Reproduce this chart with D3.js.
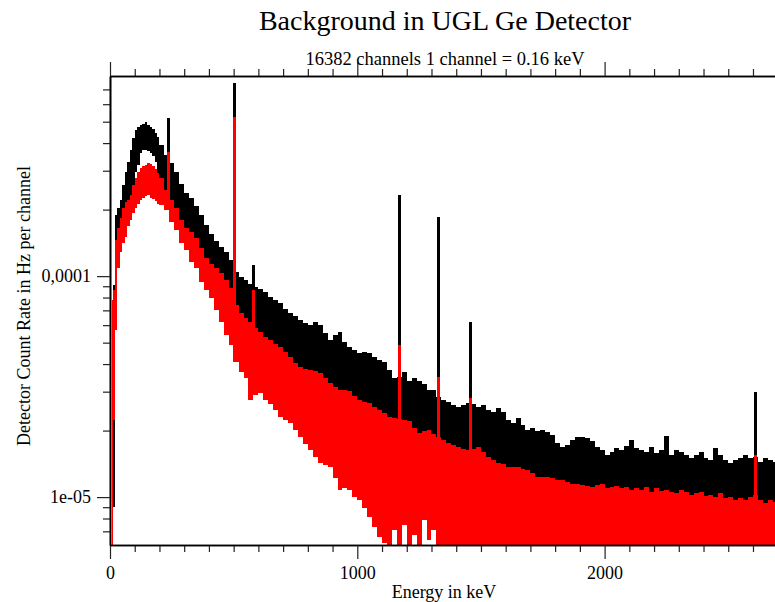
<!DOCTYPE html>
<html><head><meta charset="utf-8">
<script src="https://cdn.jsdelivr.net/npm/d3@7"></script>
<style>
body{margin:0;background:#fff}
svg{display:block}
text{font-family:"Liberation Serif","DejaVu Serif",serif;fill:#000}
</style>
</head><body>
<svg id="chart" width="775" height="602"></svg>
<script>
// ---- DATA (energy in keV, count rate in Hz per channel) ----
const binKeV = [8,14,20,30,40,50,60,70,80,90,100,110,120,130,140,150,160,170,180,190,
200,220,240,260,280,300,320,340,360,380,400,420,440,460,480,500,520,540,560,580,
600,620,640,660,680,700,720,740,760,780,800,820,840,860,880,900,920,940,960,980,
1000,1020,1040,1060,1080,1100,1120,1140,1160,1180,1200,1220,1240,1260,1280,1300,1320,1340,1360,1380,
1400,1420,1440,1460,1480,1500,1520,1540,1560,1580,1600,1620,1640,1660,1680,1700,1720,1740,1760,1780,
1800,1820,1840,1860,1880,1900,1920,1940,1960,1980,2000,2020,2040,2060,2080,2100,2120,2140,2160,2180,
2200,2220,2240,2260,2280,2300,2320,2340,2360,2380,2400,2420,2440,2460,2480,2500,2520,2540,2560,2580,
2600,2620,2640,2660,2680];
const binEndKeV = 2700;

// black spectrum: upper envelope per bin
const blackHigh = [5.0e-5,9.1e-5,1.89e-4,2.04e-4,2.21e-4,2.58e-4,2.96e-4,3.28e-4,3.72e-4,4.21e-4,4.58e-4,4.72e-4,4.82e-4,4.87e-4,4.97e-4,4.82e-4,4.72e-4,4.63e-4,4.44e-4,4.26e-4,
3.92e-4,3.53e-4,3.25e-4,2.96e-4,2.61e-4,2.38e-4,2.26e-4,2.08e-4,1.89e-4,1.70e-4,1.55e-4,1.44e-4,1.35e-4,1.28e-4,1.18e-4,1.04e-4,9.9e-5,9.59e-5,9.2e-5,8.91e-5,
8.73e-5,8.46e-5,8.03e-5,7.79e-5,7.55e-5,7.09e-5,6.80e-5,6.59e-5,6.32e-5,6.13e-5,6.00e-5,6.19e-5,6.00e-5,5.53e-5,5.13e-5,5.41e-5,5.58e-5,5.02e-5,4.77e-5,4.63e-5,
4.49e-5,4.53e-5,4.49e-5,4.30e-5,4.17e-5,4.08e-5,3.76e-5,3.45e-5,3.49e-5,3.68e-5,3.35e-5,3.45e-5,3.35e-5,3.24e-5,3.05e-5,3.05e-5,2.83e-5,2.75e-5,2.69e-5,2.61e-5,
2.55e-5,2.61e-5,2.66e-5,2.64e-5,2.55e-5,2.61e-5,2.47e-5,2.42e-5,2.52e-5,2.42e-5,2.23e-5,2.16e-5,2.28e-5,2.12e-5,2.01e-5,2.05e-5,1.99e-5,2.01e-5,1.97e-5,1.91e-5,
1.76e-5,1.68e-5,1.72e-5,1.81e-5,1.87e-5,1.87e-5,1.85e-5,1.79e-5,1.68e-5,1.63e-5,1.55e-5,1.60e-5,1.67e-5,1.63e-5,1.70e-5,1.81e-5,1.67e-5,1.63e-5,1.60e-5,1.68e-5,
1.58e-5,1.63e-5,1.89e-5,1.55e-5,1.63e-5,1.60e-5,1.55e-5,1.50e-5,1.55e-5,1.60e-5,1.50e-5,1.47e-5,1.67e-5,1.55e-5,1.47e-5,1.43e-5,1.47e-5,1.50e-5,1.55e-5,1.50e-5,
1.52e-5,1.44e-5,1.50e-5,1.47e-5,1.44e-5];
// black spectrum: lower envelope where it is not hidden by the red one (first bins)
const blackLowStart = [3.0e-5,9.0e-6,7.79e-5,1.46e-4,1.70e-4,1.89e-4,2.10e-4,2.21e-4,2.33e-4,2.58e-4,2.96e-4,3.18e-4,3.60e-4,3.72e-4,3.72e-4,3.68e-4,3.60e-4,3.49e-4,3.28e-4,2.83e-4];

// red spectrum: upper and lower envelopes per bin
const redHigh = [7.79e-5,8.64e-5,1.46e-4,1.65e-4,1.83e-4,2.04e-4,2.16e-4,2.21e-4,2.33e-4,2.58e-4,2.78e-4,2.96e-4,3.08e-4,3.15e-4,3.18e-4,3.25e-4,3.21e-4,3.15e-4,3.05e-4,2.92e-4,
2.78e-4,2.45e-4,2.21e-4,2.04e-4,1.79e-4,1.66e-4,1.59e-4,1.49e-4,1.34e-4,1.21e-4,1.14e-4,1.085e-4,1.03e-4,9.59e-5,8.82e-5,7.39e-5,6.80e-5,6.45e-5,6.19e-5,5.82e-5,
5.58e-5,5.30e-5,5.13e-5,4.92e-5,4.77e-5,4.53e-5,4.30e-5,4.04e-5,3.88e-5,3.80e-5,3.76e-5,3.72e-5,3.65e-5,3.45e-5,3.28e-5,3.15e-5,3.05e-5,3.05e-5,3.02e-5,2.86e-5,
2.75e-5,2.69e-5,2.66e-5,2.55e-5,2.47e-5,2.40e-5,2.30e-5,2.28e-5,2.25e-5,2.23e-5,2.21e-5,2.05e-5,1.95e-5,1.99e-5,2.01e-5,1.93e-5,1.87e-5,1.81e-5,1.76e-5,1.72e-5,
1.68e-5,1.65e-5,1.63e-5,1.65e-5,1.68e-5,1.60e-5,1.52e-5,1.47e-5,1.43e-5,1.41e-5,1.37e-5,1.37e-5,1.37e-5,1.34e-5,1.32e-5,1.29e-5,1.23e-5,1.23e-5,1.23e-5,1.22e-5,
1.19e-5,1.19e-5,1.17e-5,1.15e-5,1.15e-5,1.14e-5,1.12e-5,1.11e-5,1.14e-5,1.15e-5,1.10e-5,1.11e-5,1.12e-5,1.10e-5,1.11e-5,1.08e-5,1.10e-5,1.08e-5,1.11e-5,1.06e-5,
1.10e-5,1.07e-5,1.08e-5,1.05e-5,1.04e-5,1.08e-5,1.05e-5,1.02e-5,1.04e-5,1.05e-5,1.01e-5,1.02e-5,1.00e-5,1.04e-5,9.9e-6,1.00e-5,9.69e-6,9.9e-6,9.69e-6,1.00e-5,
1.02e-5,9.69e-6,9.4e-6,9.69e-6,9.5e-6];
const redLow = [5.0e-6,2.23e-5,5.70e-5,1.085e-4,1.28e-4,1.41e-4,1.51e-4,1.68e-4,1.79e-4,1.93e-4,2.04e-4,2.12e-4,2.21e-4,2.26e-4,2.31e-4,2.33e-4,2.26e-4,2.23e-4,2.19e-4,2.12e-4,
2.10e-4,1.99e-4,1.75e-4,1.61e-4,1.41e-4,1.31e-4,1.16e-4,1.085e-4,9.40e-5,8.64e-5,7.95e-5,7.02e-5,6.19e-5,5.41e-5,4.87e-5,4.08e-5,3.68e-5,3.45e-5,2.75e-5,2.89e-5,
2.95e-5,2.75e-5,2.64e-5,2.47e-5,2.30e-5,2.23e-5,2.16e-5,2.01e-5,1.87e-5,1.74e-5,1.63e-5,1.52e-5,1.42e-5,1.40e-5,1.37e-5,1.22e-5,1.08e-5,1.10e-5,1.08e-5,1.00e-5,
9.69e-6,8.91e-6,8.12e-6,7.32e-6,6.59e-6,6.2e-6,5.0e-6,7.09e-6,5.0e-6,7.47e-6,5.0e-6,6.73e-6,5.0e-6,7.87e-6,6.39e-6,7.09e-6,5.0e-6,5.0e-6,5.0e-6,5.0e-6,
5.0e-6,5.0e-6,5.0e-6,5.0e-6,5.0e-6,5.0e-6,5.0e-6,5.0e-6,5.0e-6,5.0e-6,5.0e-6,5.0e-6,5.0e-6,5.0e-6,5.0e-6,5.0e-6,5.0e-6,5.0e-6,5.0e-6,5.0e-6,
5.0e-6,5.0e-6,5.0e-6,5.0e-6,5.0e-6,5.0e-6,5.0e-6,5.0e-6,5.0e-6,5.0e-6,5.0e-6,5.0e-6,5.0e-6,5.0e-6,5.0e-6,5.0e-6,5.0e-6,5.0e-6,5.0e-6,5.0e-6,
5.0e-6,5.0e-6,5.0e-6,5.0e-6,5.0e-6,5.0e-6,5.0e-6,5.0e-6,5.0e-6,5.0e-6,5.0e-6,5.0e-6,5.0e-6,5.0e-6,5.0e-6,5.0e-6,5.0e-6,5.0e-6,5.0e-6,5.0e-6,
5.0e-6,5.0e-6,5.0e-6,5.0e-6,5.0e-6];

// gamma lines
const peakKeV   = [235, 505, 580, 1170, 1330, 1456, 2611];
const peakBlack = [5.19e-4, 7.47e-4, 1.12e-4, 2.33e-4, 1.85e-4, 6.2e-5, 2.99e-5];
const peakRed   = [3.64e-4, 5.25e-4, 8.64e-5, 4.87e-5, 3.5e-5, 2.8e-5, 1.55e-5];

// ticks
const xMajorTicks = [0, 1000, 2000];
const xMinorTicks = [100,200,300,400,500,600,700,800,900,1100,1200,1300,1400,1500,1600,1700,1800,1900,2100,2200,2300,2400,2500,2600,2700];
const yMajorTicks = [1e-5, 1e-4];
const yMajorLabels = ["1e-05", "0,0001"];
const yMinorTicks = [7e-6,8e-6,9e-6,2e-5,3e-5,4e-5,5e-5,6e-5,7e-5,8e-5,9e-5,2e-4,3e-4,4e-4,5e-4,6e-4,7e-4];

const titleText = "Background in UGL Ge Detector";
const subtitleText = "16382 channels 1 channel = 0.16 keV";
const xLabel = "Energy in keV";
const yLabel = "Detector Count Rate in Hz per channel";

// ---- LAYOUT ----
const FONT = "'Liberation Serif', 'DejaVu Serif', serif";
const L = 110, T = 76, B = 545;
const svg = d3.select("#chart");
const x = d3.scaleLinear().domain([0, 2800]).range([L, L + 0.2473 * 2800]);
const y = d3.scaleLog().domain([6.07e-6, 8.05e-4]).range([B, T]);

svg.append("defs").append("clipPath").attr("id","plot")
  .append("rect").attr("x", L).attr("y", T).attr("width", 800).attr("height", B - T);

const pts = binKeV.map((e, i) => ({
  e,
  bLo: i < blackLowStart.length ? blackLowStart[i] : redLow[i],
  bHi: blackHigh[i], rLo: redLow[i], rHi: redHigh[i]
}));
pts.push(Object.assign({}, pts[pts.length - 1], {e: binEndKeV}));

const plot = svg.append("g").attr("clip-path", "url(#plot)");
const areaB = d3.area().x(d => x(d.e)).y0(d => y(d.bLo)).y1(d => y(d.bHi)).curve(d3.curveStepAfter);
const areaR = d3.area().x(d => x(d.e)).y0(d => y(d.rLo)).y1(d => y(d.rHi)).curve(d3.curveStepAfter);

const binIndex = e => Math.max(0, d3.bisectRight(binKeV, e) - 1);
const peakHalf = 6;

plot.append("path").datum(pts).attr("d", areaB).attr("fill", "#000").attr("shape-rendering", "crispEdges");
plot.selectAll("rect.pb").data(peakKeV).join("rect").attr("class","pb")
  .attr("x", d => x(d - peakHalf)).attr("width", d => x(d + peakHalf) - x(d - peakHalf))
  .attr("y", (d, i) => y(peakBlack[i]))
  .attr("height", (d, i) => Math.max(0, Math.min(B + 5, y(pts[binIndex(d)].bLo)) - y(peakBlack[i])))
  .attr("fill", "#000").attr("shape-rendering", "crispEdges");
plot.append("path").datum(pts).attr("d", areaR).attr("fill", "#ff0000").attr("shape-rendering", "crispEdges");
plot.selectAll("rect.pr").data(peakKeV).join("rect").attr("class","pr")
  .attr("x", d => x(d - peakHalf)).attr("width", d => x(d + peakHalf) - x(d - peakHalf))
  .attr("y", (d, i) => y(peakRed[i]))
  .attr("height", (d, i) => Math.max(0, Math.min(B + 5, y(pts[binIndex(d)].rLo)) - y(peakRed[i])))
  .attr("fill", "#ff0000").attr("shape-rendering", "crispEdges");

// ---- AXES ----
function styleAxis(g) {
  g.attr("font-family", FONT).attr("font-size", 18);
  g.select(".domain").attr("stroke", "#000").attr("stroke-width", 1.6);
  g.selectAll(".tick line").attr("stroke", "#222").attr("stroke-width", 1.2);
  g.selectAll(".tick text").attr("font-family", FONT).attr("font-size", 18).attr("fill", "#000");
}
const gb1 = svg.append("g").attr("transform", `translate(0,${B})`)
  .call(d3.axisBottom(x).tickValues(xMinorTicks).tickSize(7).tickSizeOuter(0).tickFormat(""));
styleAxis(gb1);
const gb2 = svg.append("g").attr("transform", `translate(0,${B})`)
  .call(d3.axisBottom(x).tickValues(xMajorTicks).tickSize(14).tickSizeOuter(0).tickPadding(7).tickFormat(d3.format("d")));
styleAxis(gb2);
const gt1 = svg.append("g").attr("transform", `translate(0,${T})`)
  .call(d3.axisTop(x).tickValues(xMinorTicks).tickSize(7).tickSizeOuter(0).tickFormat(""));
styleAxis(gt1);
const gt2 = svg.append("g").attr("transform", `translate(0,${T})`)
  .call(d3.axisTop(x).tickValues(xMajorTicks).tickSize(14).tickSizeOuter(0).tickFormat(""));
styleAxis(gt2);
const gl1 = svg.append("g").attr("transform", `translate(${L},0)`)
  .call(d3.axisLeft(y).tickValues(yMinorTicks).tickSize(7).tickSizeOuter(0).tickFormat(""));
styleAxis(gl1);
const gl2 = svg.append("g").attr("transform", `translate(${L},0)`)
  .call(d3.axisLeft(y).tickValues(yMajorTicks).tickSize(13).tickSizeOuter(0).tickPadding(6)
    .tickFormat((d, i) => yMajorLabels[i]));
styleAxis(gl2);

// ---- TEXT ----
const addText = (xp, yp, size, str) => svg.append("text").attr("x", xp).attr("y", yp)
  .attr("text-anchor", "middle").attr("font-family", FONT).attr("font-size", size).text(str);
addText(445, 30, 28, titleText);
addText(445, 65, 18.5, subtitleText);
addText(444, 598, 18, xLabel);
addText(0, 0, 18, yLabel).attr("transform", "translate(30,306) rotate(-90)");
</script>
</body></html>
